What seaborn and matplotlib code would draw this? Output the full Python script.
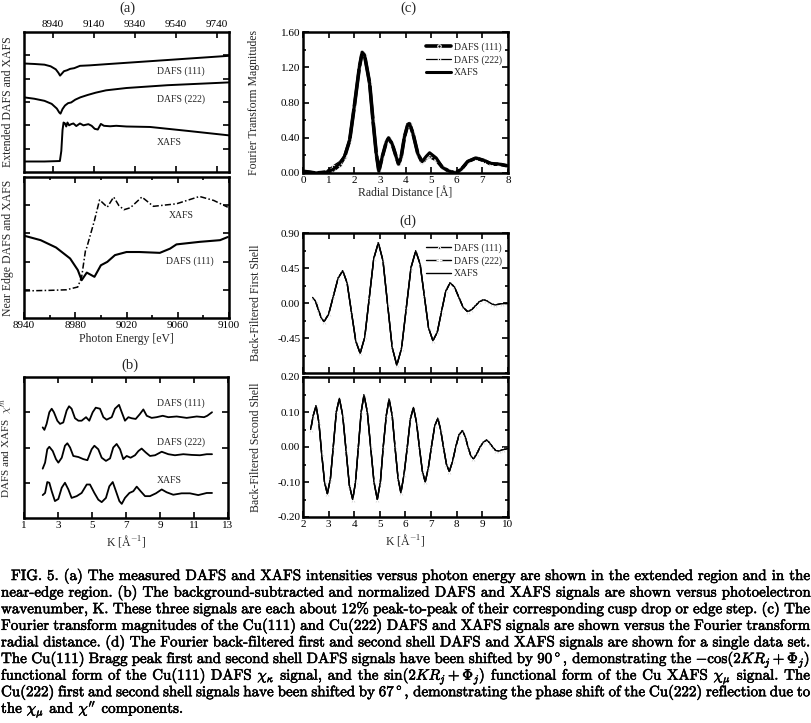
import matplotlib
matplotlib.use("Agg")
import matplotlib.pyplot as plt
import matplotlib.patheffects as pe
from matplotlib.ticker import MultipleLocator
import seaborn as sns

# ---- panel (a), extended region
ext_e111 = [8800, 8850, 8900, 8930, 8955, 8968, 8976, 8985, 8995, 9010, 9025, 9045, 9073, 9120, 9200, 9300, 9400, 9500, 9600, 9700, 9800]
ext_d111 = [4.65, 4.63, 4.60, 4.53, 4.40, 4.25, 4.13, 4.22, 4.32, 4.36, 4.42, 4.45, 4.55, 4.57, 4.62, 4.68, 4.74, 4.80, 4.86, 4.92, 4.98]
ext_e222 = [8800, 8850, 8900, 8935, 8960, 8972, 8978, 8988, 9000, 9015, 9030, 9050, 9075, 9110, 9150, 9200, 9300, 9400, 9500, 9600, 9700, 9800]
ext_d222 = [3.20, 3.14, 3.05, 2.92, 2.72, 2.55, 2.50, 2.70, 2.85, 2.95, 2.98, 3.10, 3.20, 3.30, 3.40, 3.50, 3.60, 3.66, 3.72, 3.76, 3.80, 3.84]
ext_ex = [8800, 8900, 8975, 8982, 8988, 8993, 9000, 9006, 9012, 9020, 9030, 9041, 9055, 9073, 9090, 9114, 9130, 9145, 9160, 9175, 9190, 9220, 9250, 9300, 9415, 9600, 9800]
ext_xafs = [0.45, 0.45, 0.47, 0.90, 1.80, 2.12, 2.08, 1.95, 2.12, 2.00, 2.05, 2.08, 1.97, 2.08, 2.00, 2.05, 1.98, 1.85, 1.82, 2.06, 1.98, 1.96, 1.98, 1.95, 1.93, 1.76, 1.57]

# ---- panel (a), near edge
ne_ex = [8940, 8960, 8973, 8982, 8985, 8988, 8989, 8995, 8999, 9005, 9010, 9014, 9018, 9023, 9032, 9041, 9059, 9077, 9088, 9099]
ne_xafs = [0.96, 0.98, 1.00, 1.10, 1.46, 2.40, 2.50, 3.46, 4.19, 3.93, 4.29, 3.99, 3.84, 3.91, 4.29, 3.96, 4.05, 4.31, 4.17, 3.93]
ne_e111 = [8940, 8953, 8965, 8976, 8982, 8985, 8989, 8995, 9000, 9005, 9011, 9020, 9030, 9046, 9054, 9059, 9077, 9093, 9099]
ne_d111 = [2.92, 2.76, 2.50, 2.11, 1.70, 1.34, 1.61, 1.46, 1.87, 1.99, 2.23, 2.34, 2.34, 2.31, 2.46, 2.61, 2.70, 2.76, 2.87]

# ---- panel (b), chi(K)
k111 = [2.10, 2.20, 2.33, 2.49, 2.63, 2.76, 2.96, 3.12, 3.31, 3.51, 3.65, 3.80, 4.00, 4.20, 4.39, 4.65, 4.84, 5.04, 5.22, 5.47, 5.67, 5.86, 6.16, 6.35, 6.59, 6.75, 6.94, 7.14, 7.33, 7.57, 7.82, 8.02, 8.22, 8.51, 8.80, 9.16, 9.49, 9.98, 10.57, 11.16, 11.59, 11.78, 12.06]
chi111 = [2.57, 2.50, 2.67, 3.00, 3.10, 3.00, 2.76, 2.67, 2.71, 3.05, 3.17, 3.10, 2.83, 2.76, 2.76, 2.86, 2.76, 3.00, 3.13, 3.10, 2.86, 2.79, 2.86, 3.10, 3.21, 3.00, 2.76, 2.86, 2.83, 2.81, 2.95, 3.08, 2.90, 2.84, 2.86, 2.90, 2.86, 2.88, 2.84, 2.88, 2.86, 2.90, 3.00]
k222 = [2.10, 2.24, 2.37, 2.49, 2.69, 2.88, 3.02, 3.22, 3.41, 3.55, 3.71, 3.90, 4.20, 4.49, 4.73, 4.98, 5.14, 5.37, 5.57, 5.82, 6.06, 6.25, 6.45, 6.65, 6.84, 7.04, 7.27, 7.53, 7.73, 7.92, 8.16, 8.41, 8.71, 9.10, 9.49, 9.88, 10.37, 10.86, 11.35, 11.75, 12.06]
chi222 = [1.40, 1.57, 1.95, 2.02, 1.90, 1.67, 1.57, 1.71, 2.05, 2.12, 2.00, 1.76, 1.73, 1.67, 1.64, 1.95, 2.05, 1.95, 1.71, 1.62, 1.69, 2.00, 2.10, 1.95, 1.67, 1.76, 1.71, 1.78, 1.90, 1.97, 1.86, 1.76, 1.78, 1.88, 1.81, 1.78, 1.81, 1.79, 1.78, 1.81, 1.81]
kx = [2.10, 2.24, 2.37, 2.49, 2.63, 2.82, 3.02, 3.22, 3.41, 3.61, 3.80, 4.10, 4.39, 4.69, 4.88, 5.14, 5.37, 5.57, 5.82, 6.02, 6.22, 6.41, 6.61, 6.75, 6.94, 7.20, 7.43, 7.63, 7.86, 8.12, 8.41, 8.76, 9.10, 9.39, 9.78, 10.27, 10.76, 11.25, 11.75, 12.06]
chix = [0.65, 0.71, 1.02, 1.00, 0.76, 0.48, 0.54, 0.86, 1.00, 0.81, 0.57, 0.62, 0.71, 0.95, 0.95, 0.71, 0.52, 0.45, 0.57, 0.90, 1.02, 0.76, 0.48, 0.40, 0.57, 0.71, 0.76, 0.89, 0.76, 0.62, 0.62, 0.70, 0.81, 0.73, 0.66, 0.70, 0.70, 0.65, 0.71, 0.71]

# ---- panel (c), Fourier transform magnitudes
ft_r = [0, 0.5, 0.9, 1.17, 1.43, 1.62, 1.82, 2.0, 2.2, 2.31, 2.4, 2.6, 2.73, 2.86, 2.96, 3.09, 3.25, 3.34, 3.48, 3.64, 3.73, 3.83, 3.96, 4.09, 4.16, 4.29, 4.48, 4.65, 4.81, 4.94, 5.2, 5.45, 5.71, 5.95, 6.17, 6.43, 6.75, 7.08, 7.34, 7.66, 8.0]
ft_111 = [0.02, 0.0, 0.01, 0.03, 0.09, 0.18, 0.37, 0.75, 1.20, 1.37, 1.34, 1.02, 0.60, 0.22, 0.02, 0.18, 0.35, 0.395, 0.33, 0.18, 0.10, 0.18, 0.41, 0.55, 0.56, 0.45, 0.22, 0.12, 0.17, 0.19, 0.15, 0.06, 0.02, 0.0, 0.04, 0.13, 0.17, 0.14, 0.10, 0.10, 0.08]
ft_222 = [0.02, 0.0, 0.02, 0.08, 0.13, 0.19, 0.37, 0.75, 1.20, 1.36, 1.34, 1.02, 0.60, 0.22, 0.02, 0.18, 0.35, 0.39, 0.33, 0.18, 0.10, 0.18, 0.41, 0.55, 0.55, 0.45, 0.22, 0.12, 0.18, 0.22, 0.16, 0.06, 0.02, 0.0, 0.04, 0.13, 0.16, 0.13, 0.10, 0.10, 0.08]
ft_xafs = [0.02, 0.0, 0.01, 0.04, 0.11, 0.19, 0.37, 0.75, 1.20, 1.37, 1.34, 1.02, 0.60, 0.22, 0.02, 0.18, 0.35, 0.40, 0.33, 0.18, 0.10, 0.18, 0.41, 0.55, 0.56, 0.45, 0.22, 0.13, 0.19, 0.23, 0.17, 0.06, 0.02, 0.0, 0.04, 0.13, 0.17, 0.14, 0.11, 0.10, 0.08]

# ---- panel (d), back-filtered shells
k1 = [2.38, 2.49, 2.60, 2.71, 2.82, 3.00, 3.185, 3.37, 3.55, 3.72, 3.89, 4.06, 4.23, 4.41, 4.585, 4.76, 4.94, 5.12, 5.30, 5.48, 5.66, 5.845, 6.03, 6.215, 6.40, 6.57, 6.735, 6.90, 7.07, 7.24, 7.405, 7.57, 7.74, 7.91, 8.08, 8.25, 8.42, 8.575, 8.73, 8.885, 9.04, 9.155, 9.27, 9.385, 9.50, 9.75, 10.0]
shell1 = [0.07, 0.02, -0.085, -0.19, -0.24, -0.144, 0.088, 0.32, 0.415, 0.26, -0.116, -0.49, -0.647, -0.44, 0.064, 0.57, 0.775, 0.545, -0.012, -0.57, -0.80, -0.585, -0.065, 0.455, 0.67, 0.50, 0.09, -0.32, -0.485, -0.376, -0.11, 0.15, 0.26, 0.206, 0.075, -0.056, -0.11, -0.088, -0.035, 0.018, 0.04, 0.03, 0.008, -0.015, -0.025, -0.01, -0.005]
k2 = [2.30, 2.40, 2.51, 2.62, 2.73, 2.84, 2.95, 3.07, 3.18, 3.30, 3.42, 3.55, 3.68, 3.81, 3.94, 4.05, 4.16, 4.27, 4.38, 4.51, 4.64, 4.77, 4.90, 5.02, 5.13, 5.25, 5.36, 5.48, 5.59, 5.71, 5.82, 5.94, 6.07, 6.19, 6.31, 6.43, 6.54, 6.66, 6.77, 6.89, 7.01, 7.14, 7.26, 7.37, 7.48, 7.60, 7.71, 7.84, 7.96, 8.09, 8.22, 8.33, 8.44, 8.55, 8.65, 8.78, 8.91, 9.04, 9.17, 9.28, 9.40, 9.52, 9.63, 9.80, 10.0]
shell2 = [0.05, 0.09, 0.118, 0.07, -0.02, -0.10, -0.134, -0.09, 0.0, 0.10, 0.139, 0.09, -0.01, -0.11, -0.15, -0.10, 0.0, 0.10, 0.149, 0.10, 0.0, -0.10, -0.15, -0.10, 0.0, 0.09, 0.137, 0.09, 0.0, -0.09, -0.131, -0.08, 0.0, 0.08, 0.113, 0.07, 0.0, -0.07, -0.10, -0.06, 0.0, 0.06, 0.082, 0.05, 0.0, -0.05, -0.07, -0.04, 0.0, 0.035, 0.047, 0.03, 0.0, -0.025, -0.034, -0.02, 0.0, 0.014, 0.02, 0.012, 0.0, -0.01, -0.012, -0.008, -0.004]

caption = [
    "FIG. 5. (a) The measured DAFS and XAFS intensities versus photon energy are shown in the extended region and in the",
    "near-edge region. (b) The background-subtracted and normalized DAFS and XAFS signals are shown versus photoelectron",
    "wavenumber, K. These three signals are each about 12% peak-to-peak of their corresponding cusp drop or edge step. (c) The",
    "Fourier transform magnitudes of the Cu(111) and Cu(222) DAFS and XAFS signals are shown versus the Fourier transform",
    "radial distance. (d) The Fourier back-filtered first and second shell DAFS and XAFS signals are shown for a single data set.",
    r"The Cu(111) Bragg peak first and second shell DAFS signals have been shifted by 90$^\circ$, demonstrating the $-\cos(2KR_j+\Phi_j)$",
    r"functional form of the Cu(111) DAFS $\chi_\kappa$ signal, and the $\sin(2KR_j+\Phi_j)$ functional form of the Cu XAFS $\chi_\mu$ signal. The",
    r"Cu(222) first and second shell signals have been shifted by 67$^\circ$, demonstrating the phase shift of the Cu(222) reflection due to",
    r"the $\chi_\mu$ and $\chi^{\prime\prime}$ components.",
]

sns.set_theme(style="ticks")
plt.rcParams["font.family"] = ["Liberation Serif", "DejaVu Serif"]
plt.rcParams["mathtext.fontset"] = "cm"
plt.rcParams["axes.unicode_minus"] = False

W, H = 811, 723
fig = plt.figure(figsize=(W / 100, H / 100), dpi=100)
fig.patch.set_facecolor("white")


def box(l, t, r, b):
    return fig.add_axes([l / W, 1 - b / H, (r - l) / W, (b - t) / H])


def style(ax):
    ax.set_facecolor("white")
    for s in ax.spines.values():
        s.set_linewidth(1.8)
        s.set_color("black")
    ax.tick_params(which="both", direction="in", top=True, right=True,
                   colors="black", labelsize=8, width=1.2, pad=2)
    ax.tick_params(which="major", length=4)
    ax.tick_params(which="minor", length=2.5)


line = dict(color="black", legend=False)

# (a) top
ax = box(24, 32, 229, 172)
style(ax)
sns.lineplot(x=ext_e111, y=ext_d111, lw=1.4, ax=ax, **line)
sns.lineplot(x=ext_e222, y=ext_d222, lw=1.4, ax=ax, **line)
sns.lineplot(x=ext_ex, y=ext_xafs, lw=1.4, ax=ax, **line)
ax.set_xlim(8800, 9800)
ax.set_ylim(0, 6)
ax.set_xticks([8940, 9140, 9340, 9540, 9740])
ax.set_yticks([1, 2, 3, 4, 5])
ax.tick_params(labeltop=True, labelbottom=False, labelleft=False)
ax.text(9450, 4.3, "DAFS (111)", fontsize=7, va="center")
ax.text(9450, 3.12, "DAFS (222)", fontsize=7, va="center")
ax.text(9450, 1.26, "XAFS", fontsize=7, va="center")
ax.set_ylabel("Extended DAFS and XAFS", fontsize=8.5)
ax.yaxis.set_label_coords(-0.05, 0.5)

# (a) bottom
ax = box(24, 177, 229, 318)
style(ax)
sns.lineplot(x=ne_ex, y=ne_xafs, lw=1.1, linestyle=(0, (4, 1.5, 1, 1.5)), ax=ax, **line)
sns.lineplot(x=ne_e111, y=ne_d111, lw=1.5, ax=ax, **line)
ax.set_xlim(8940, 9100)
ax.set_ylim(0, 5)
ax.set_xticks([8940, 8980, 9020, 9060, 9100])
ax.xaxis.set_minor_locator(MultipleLocator(20))
ax.set_yticks([1, 2, 3, 4])
ax.tick_params(labelleft=False)
ax.text(9053, 3.64, "XAFS", fontsize=7, va="center")
ax.text(9051, 2.02, "DAFS (111)", fontsize=7, va="center")
ax.set_ylabel("Near Edge DAFS and XAFS", fontsize=8.5)
ax.yaxis.set_label_coords(-0.05, 0.5)
ax.set_xlabel("Photon Energy [eV]", fontsize=8.5, labelpad=2)

# (b)
ax = box(24, 377, 228, 518)
style(ax)
sns.lineplot(x=k111, y=chi111, lw=1.3, ax=ax, **line)
sns.lineplot(x=k222, y=chi222, lw=1.3, ax=ax, **line)
sns.lineplot(x=kx, y=chix, lw=1.3, ax=ax, **line)
ax.set_xlim(1, 13)
ax.set_ylim(0, 4)
ax.set_xticks([1, 3, 5, 7, 9, 11, 13])
ax.set_yticks([1, 2, 3])
ax.tick_params(labelleft=False)
ax.text(8.8, 3.27, "DAFS (111)", fontsize=7, va="center")
ax.text(8.8, 2.14, "DAFS (222)", fontsize=7, va="center")
ax.text(8.8, 1.05, "XAFS", fontsize=7, va="center")
ax.set_ylabel(r"DAFS and XAFS  $\chi^{\prime n}$", fontsize=8)
ax.yaxis.set_label_coords(-0.045, 0.5)
ax.set_xlabel("K [Å$^{-1}$]", fontsize=8.5, labelpad=2)

# (c)
ax = box(303, 32, 508, 173)
style(ax)
sns.lineplot(x=ft_r, y=ft_111, lw=2.6, marker="o", markersize=2.5, label="DAFS (111)", ax=ax, color="black")
sns.lineplot(x=ft_r, y=ft_222, lw=0.9, marker="o", markersize=1.8, label="DAFS (222)", ax=ax, color="black")
sns.lineplot(x=ft_r, y=ft_xafs, lw=2.2, label="XAFS", ax=ax, color="black")
ax.set_xlim(0, 8)
ax.set_ylim(0, 1.6)
ax.set_xticks(range(0, 9))
ax.set_yticks([0, 0.4, 0.8, 1.2, 1.6])
ax.set_yticklabels(["0.00", "0.40", "0.80", "1.20", "1.60"])
ax.yaxis.set_minor_locator(MultipleLocator(0.2))
ax.legend(loc="upper right", bbox_to_anchor=(1.0, 0.97), frameon=False, fontsize=7,
          handlelength=2.6, handletextpad=0.3, labelspacing=0.35, borderaxespad=0.2)
ax.set_ylabel("Fourier Transform Magnitudes", fontsize=8.5)
ax.yaxis.set_label_coords(-0.21, 0.5)
ax.set_xlabel("Radial Distance [Å]", fontsize=8.5, labelpad=2)

# (d) top
ax = box(303, 233, 508, 373)
style(ax)
sns.lineplot(x=k1, y=shell1, lw=1.0, marker="^", markersize=2.5, label="DAFS (111)", ax=ax, color="black")
sns.lineplot(x=k1, y=shell1, lw=1.0, marker="+", markersize=4, label="DAFS (222)", ax=ax, color="black")
sns.lineplot(x=k1, y=shell1, lw=1.0, label="XAFS", ax=ax, color="black")
ax.set_xlim(2, 10)
ax.set_ylim(-0.9, 0.9)
ax.set_xticks(range(2, 11))
ax.set_yticks([0.9, 0.45, 0, -0.45])
ax.set_yticklabels(["0.90", "0.45", "0.00", "-0.45"])
ax.yaxis.set_minor_locator(MultipleLocator(0.225))
ax.tick_params(labelbottom=False)
ax.legend(loc="upper right", bbox_to_anchor=(1.0, 0.97), frameon=False, fontsize=7,
          handlelength=2.6, handletextpad=0.3, labelspacing=0.35, borderaxespad=0.2)
ax.set_ylabel("Back-Filtered First Shell", fontsize=8.5)
ax.yaxis.set_label_coords(-0.2, 0.5)

# (d) bottom
ax = box(303, 377, 508, 517)
style(ax)
sns.lineplot(x=k2, y=shell2, lw=1.0, marker="^", markersize=2.5, ax=ax, **line)
sns.lineplot(x=k2, y=shell2, lw=1.0, marker="+", markersize=4, ax=ax, **line)
sns.lineplot(x=k2, y=shell2, lw=1.0, ax=ax, **line)
ax.set_xlim(2, 10)
ax.set_ylim(-0.2, 0.2)
ax.set_xticks(range(2, 11))
ax.set_yticks([0.2, 0.1, 0, -0.1, -0.2])
ax.set_yticklabels(["0.20", "0.10", "0.00", "-0.10", "-0.20"])
ax.yaxis.set_minor_locator(MultipleLocator(0.05))
ax.set_ylabel("Back-Filtered Second Shell", fontsize=8.5)
ax.yaxis.set_label_coords(-0.2, 0.5)
ax.set_xlabel("K [Å$^{-1}$]", fontsize=8.5, labelpad=2)

# panel letters
for lab, x, y in [("(a)", 127, 8), ("(b)", 130, 365), ("(c)", 408, 8), ("(d)", 408, 221)]:
    fig.text(x / W, 1 - y / H, lab, fontsize=10.5, ha="center", va="center")

# caption, justified word by word
renderer = fig.canvas.get_renderer()
for i, row in enumerate(caption):
    words = row.split(" ")
    x0 = 11 if i == 0 else 1
    x1 = 810
    fs = 10.8
    while True:
        texts = [fig.text(0, 0, w, fontsize=fs, family=["cmr10", "DejaVu Serif"], color="black",
                          va="baseline", path_effects=[pe.withStroke(linewidth=0.4, foreground="black")])
                 for w in words]
        widths = [t.get_window_extent(renderer).width for t in texts]
        gap = (x1 - x0 - sum(widths)) / (len(words) - 1)
        if gap >= 3.2 or i == len(caption) - 1:
            break
        for t in texts:
            t.remove()
        fs -= 0.2
    if i == len(caption) - 1:
        gap = 5
    yb = 580 + 16.6 * i
    x = x0
    for t, w in zip(texts, widths):
        t.set_position((x / W, 1 - yb / H))
        x += w + gap

fig.savefig("out.png", dpi=100)
